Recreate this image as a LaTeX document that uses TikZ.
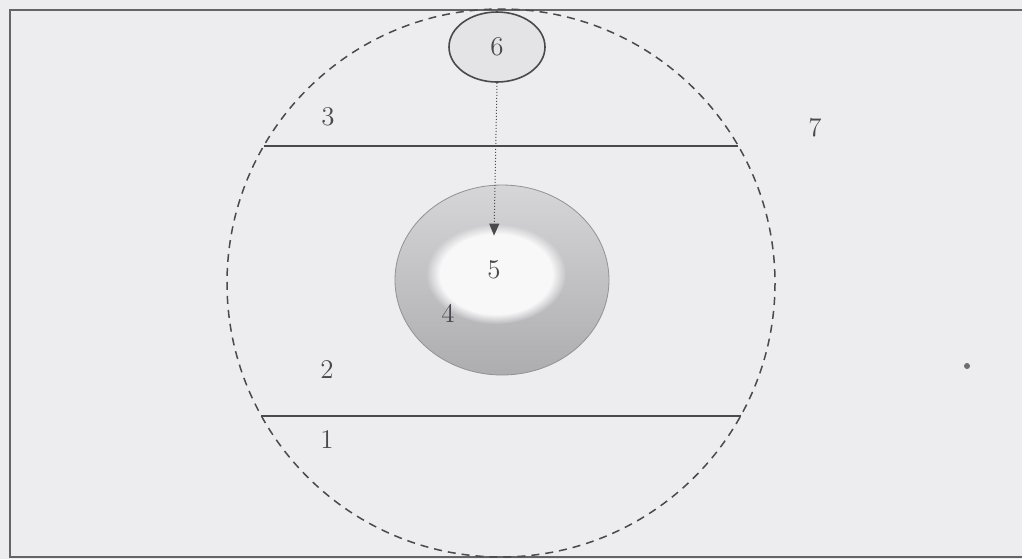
\documentclass[tikz,border=0pt]{standalone}
\usepackage{tikz}
\usetikzlibrary{arrows.meta,shapes.geometric,fadings,calc}
\definecolor{paper}{HTML}{EDEDEF}
\definecolor{inkgray}{HTML}{4A4A4E}
\definecolor{ringtop}{HTML}{D6D6D8}
\definecolor{ringbot}{HTML}{ADADB0}

\begin{document}
\begin{tikzpicture}[x=0.5pt, y=-0.5pt,
    every node/.style={font=\fontsize{13.5}{15}\selectfont, text=inkgray},
    frame/.style={draw=inkgray!85, line width=0.6pt},
    border/.style={draw=inkgray, dash pattern=on 4pt off 3pt, line width=0.75pt},
    layer/.style={draw=inkgray, line width=0.7pt},
    cell/.style={ellipse, draw=inkgray, line width=0.8pt, fill=paper!92!gray,
                 minimum width=48pt, minimum height=35pt, inner sep=0pt},
    core/.style={ellipse, draw=inkgray!60, line width=0.4pt, top color=ringtop,
                 bottom color=ringbot, minimum width=107pt, minimum height=95pt},
    arr/.style={-{Triangle[length=6pt,width=5pt]}, densely dotted, line width=0.5pt, inkgray}
  ]
  \useasboundingbox (0,0) rectangle (1022,559);
  \fill[paper] (0,0) rectangle (1022,559);
  \begin{scope}
    \clip (0,0) rectangle (1022,559);
    \draw[frame] (1040,10) -- (10,10) -- (10,557) -- (1040,557);
  \end{scope}
  % zones
  \coordinate (c) at (501,283);
  \draw[border] (c) circle [radius=274];
  \draw[layer] ($(c)+(-150:274)$) -- ($(c)+(-30:274)$);
  \draw[layer] ($(c)+(151:274)$) -- ($(c)+(29:274)$);
  \node (l3) at (328,117) {3};
  \node (l2) at (327,370) {2};
  \node (l1) at (327,440) {1};
  \node (l7) at (815,128) {7};
  % body
  \node[core] (n4) at (502,280) {};
  \fill[paper!40!white, path fading=circle with fuzzy edge 20 percent]
    (496,274) ellipse [x radius=70, y radius=50];
  \node[ellipse, minimum width=50pt, minimum height=34pt, inner sep=0pt]
    (n5) at (494,270) {5};
  \node (l4) at (448,313) {4};
  \node[cell] (n6) at (497,47) {6};
  \draw[arr] (n6.south) -- (n5.north);
  \fill[inkgray!80] (967,366) circle [radius=3];
\end{tikzpicture}
\end{document}
